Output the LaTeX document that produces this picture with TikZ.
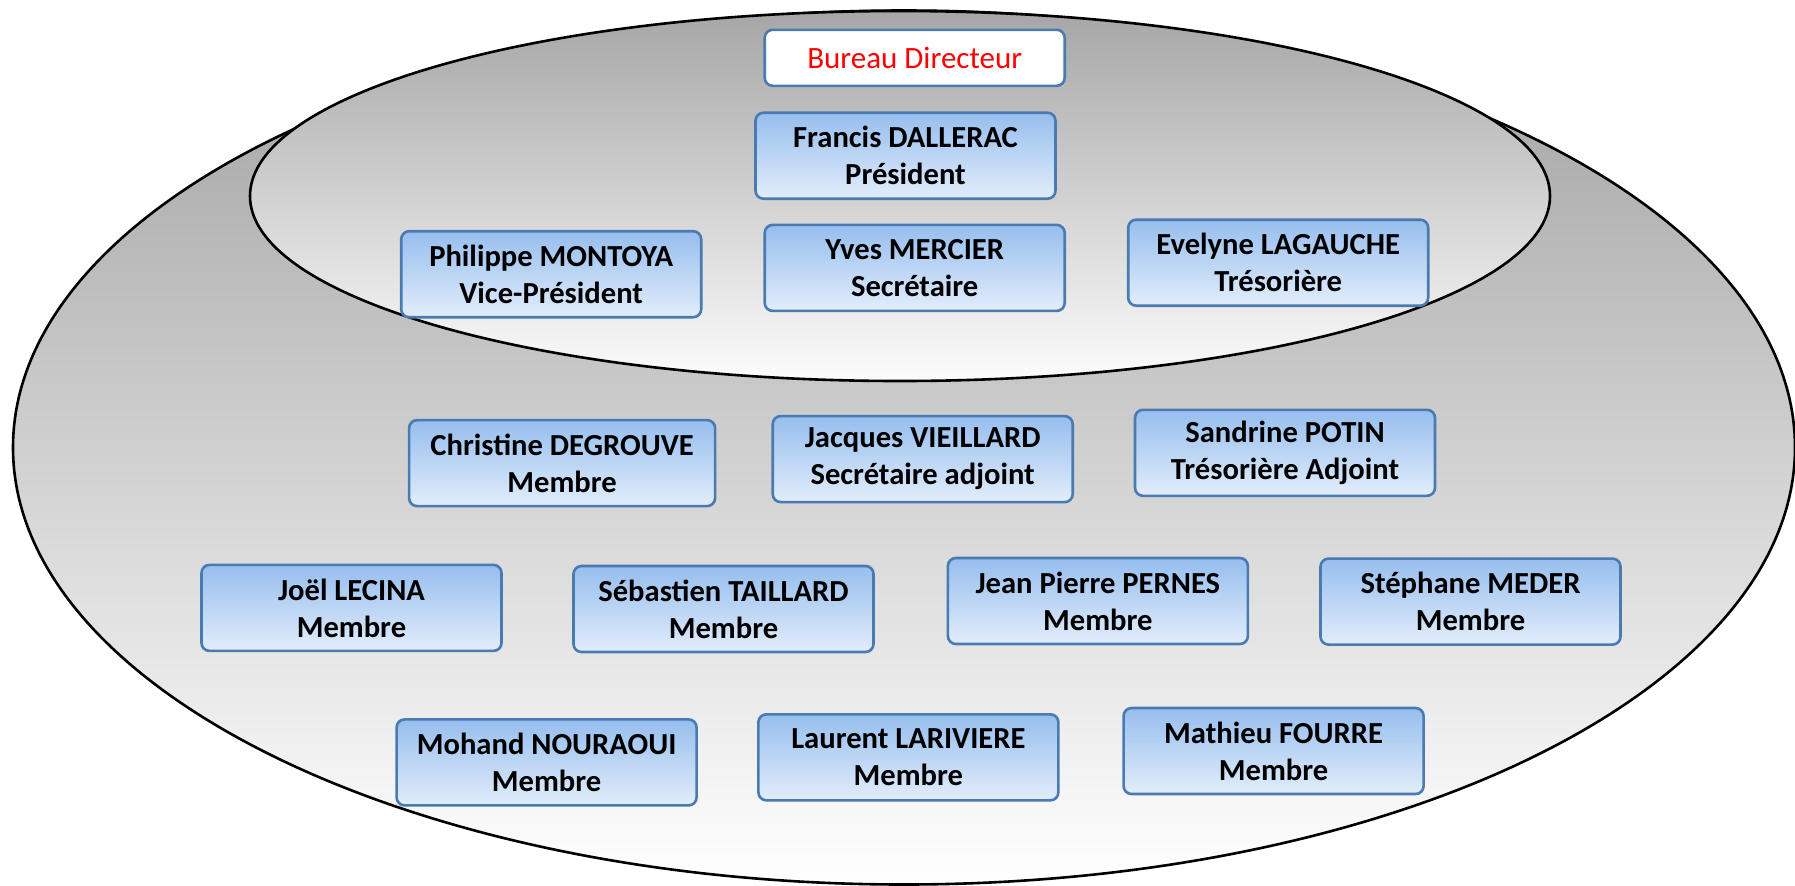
\documentclass[tikz,border=0pt]{standalone}
\usepackage{fontspec}
\setmainfont{Carlito}
\definecolor{boxblue}{HTML}{4A7BB0}
\definecolor{boxtop}{HTML}{96BEEE}
\definecolor{boxbot}{HTML}{E2EDFB}
\definecolor{outtop}{HTML}{A0A0A0}
\definecolor{outbot}{HTML}{FFFFFF}
\definecolor{intop}{HTML}{A6A6A6}
\definecolor{inbot}{HTML}{FCFCFC}
\tikzset{
  member/.style={draw=boxblue, line width=1.3pt, rounded corners=4pt,
    top color=boxtop, bottom color=boxbot, minimum width=150pt,
    minimum height=43pt, align=center, inner sep=0pt,
    font=\bfseries\fontsize{15.3}{18.5}\selectfont},
  titlebox/.style={draw=boxblue, line width=1.3pt, rounded corners=4pt,
    fill=white, minimum width=150pt, minimum height=28pt, inner sep=0pt,
    text=red, font=\fontsize{15.5}{18}\selectfont},
  zone/.style={draw=black, line width=1.3pt}
}
\begin{document}
\begin{tikzpicture}[x=0.5pt,y=-0.5pt]
\useasboundingbox (0,0) rectangle (1795,885);
% outer ellipse
\shade[top color=outtop, bottom color=outbot] (904,447.5) ellipse [x radius=445.5pt, y radius=218.5pt];
\draw[zone] (904,447.5) ellipse [x radius=445.5pt, y radius=218.5pt];
% inner ellipse
\shade[top color=intop, bottom color=inbot] (900,196) ellipse [x radius=325pt, y radius=92.5pt];
\draw[zone] (900,196) ellipse [x radius=325pt, y radius=92.5pt];
% boxes
\node[titlebox] (bureau) at (914.7,57.8) {Bureau Directeur};
\node[member] (francis) at (905.5,155.7) {Francis DALLERAC\\Président};
\node[member] (philippe) at (551.2,274.2) {Philippe MONTOYA\\Vice-Président};
\node[member] (yves) at (914.7,267.9) {Yves MERCIER\\Secrétaire};
\node[member] (evelyne) at (1278.2,262.7) {Evelyne LAGAUCHE\\Trésorière};
\node[member, minimum width=153pt] (christine) at (562.1,463.1) {Christine DEGROUVE\\Membre};
\node[member] (jacques) at (922.7,459.1) {Jacques VIEILLARD\\Secrétaire adjoint};
\node[member] (sandrine) at (1285.0,452.8) {Sandrine POTIN\\Trésorière Adjoint};
\node[member] (joel) at (351.5,607.9) {Joël LECINA\\Membre};
\node[member] (sebastien) at (723.5,609.0) {Sébastien TAILLARD\\Membre};
\node[member] (jeanpierre) at (1097.9,601.0) {Jean Pierre PERNES\\Membre};
\node[member] (stephane) at (1470.5,601.6) {Stéphane MEDER\\Membre};
\node[member] (mohand) at (546.6,762.4) {Mohand NOURAOUI\\Membre};
\node[member] (laurent) at (908.4,757.3) {Laurent LARIVIERE\\Membre};
\node[member] (mathieu) at (1273.6,751.0) {Mathieu FOURRE\\Membre};
\end{tikzpicture}
\end{document}
